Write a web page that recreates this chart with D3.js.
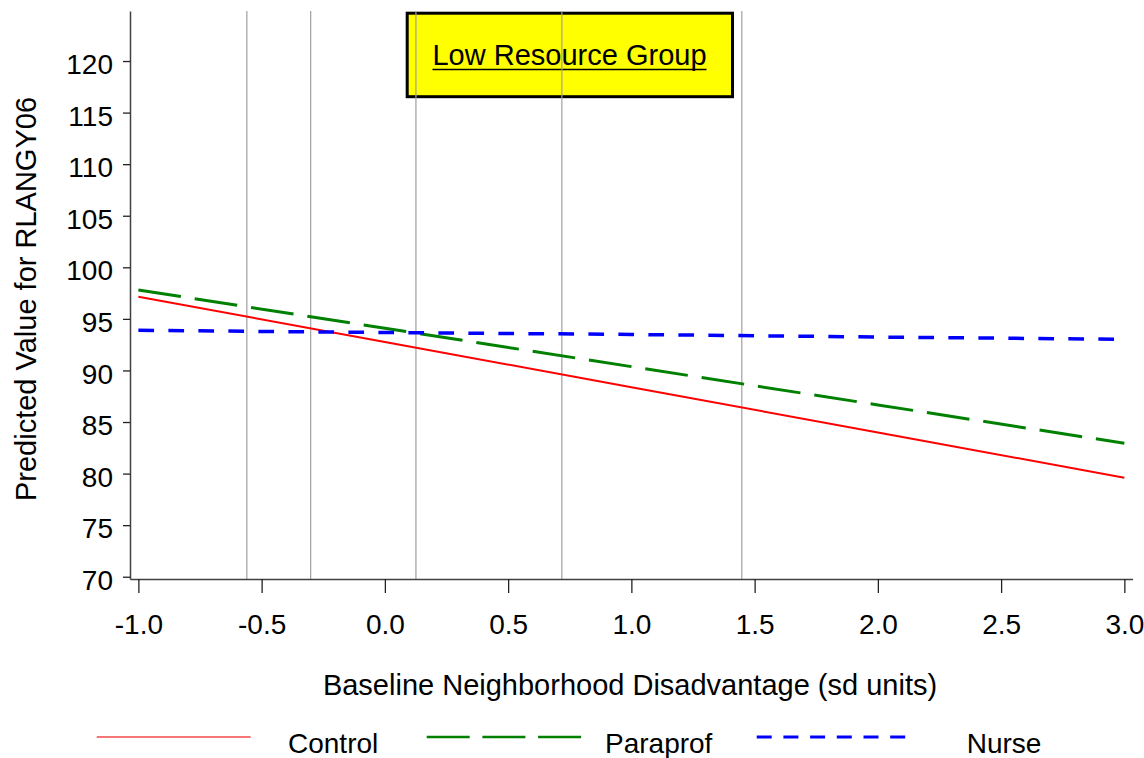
<!DOCTYPE html>
<html>
<head>
<meta charset="utf-8">
<script src="https://cdn.jsdelivr.net/npm/d3@7"></script>
<style>
  html, body { margin: 0; padding: 0; background: #fff; }
  svg { display: block; font-family: "Liberation Sans", Arial, Helvetica, sans-serif; }
</style>
</head>
<body>
<svg id="chart" width="1144" height="758"></svg>
<script>
// ---- data ----
const xPoints = [-1, 0, 1, 2, 3];
const controlValues = [97.15, 92.76, 88.37, 83.99, 79.60];
const paraprofValues = [97.80, 94.09, 90.37, 86.66, 82.94];
const nurseValues = [93.89, 93.68, 93.49, 93.24, 93.02];
const seriesNames = ["Control", "Paraprof", "Nurse"];
const refLines = [-0.560, -0.301, 0.126, 0.718, 1.448];
const xTicks = [-1.0, -0.5, 0.0, 0.5, 1.0, 1.5, 2.0, 2.5, 3.0];
const yTicks = [70, 75, 80, 85, 90, 95, 100, 105, 110, 115, 120];
const titleText = "Low Resource Group";
const xTitle = "Baseline Neighborhood Disadvantage (sd units)";
const yTitle = "Predicted Value for RLANGY06";

// ---- layout ----
const svg = d3.select("#chart");
const x = d3.scaleLinear().domain([-1.034, 3.033]).range([130, 1132.5]);
const y = d3.scaleLinear().domain([69.78, 124.85]).range([579, 11]);

const series = [
  { name: seriesNames[0], values: controlValues, color: "#ff0000", width: 2, dash: null, lDash: null, lWidth: 1.3, lColor: "#f04848" },
  { name: seriesNames[1], values: paraprofValues, color: "#008000", width: 3, dash: "43,14", lDash: "43,12.7", lWidth: 2.5, lColor: "#008000" },
  { name: seriesNames[2], values: nurseValues, color: "#0000ff", width: 3.5, dash: "15.7,14.3", lDash: "15,11.7", lWidth: 3, lColor: "#0000ff" }
];

// title box
const box = svg.append("g");
box.append("rect")
  .attr("x", 407.2).attr("y", 13.2).attr("width", 325.3).attr("height", 83.5)
  .attr("fill", "#ffff00").attr("stroke", "#000").attr("stroke-width", 3);
const tt = box.append("text")
  .attr("x", 569.5).attr("y", 65).attr("text-anchor", "middle")
  .attr("font-size", 29).attr("fill", "#000").text(titleText);

// reference vertical lines
svg.append("g").selectAll("line").data(refLines).join("line")
  .attr("x1", d => x(d)).attr("x2", d => x(d))
  .attr("y1", 11).attr("y2", 579)
  .attr("stroke", "#a0a0a0").attr("stroke-width", 1.2);

// underline for title
{
  const bb = tt.node().getBBox();
  box.append("line").attr("x1", bb.x).attr("x2", bb.x + bb.width)
    .attr("y1", 69.5).attr("y2", 69.5).attr("stroke", "#000").attr("stroke-width", 1.5);
}

// axes
const yAxis = d3.axisLeft(y).tickValues(yTicks).tickSize(7).tickSizeOuter(0).tickPadding(10);
const gy = svg.append("g").attr("transform", "translate(130,0)").call(yAxis);
gy.selectAll("text").attr("font-size", 28).attr("font-family", "Liberation Sans, Arial, sans-serif").attr("dy", "0.45em").attr("fill", "#000");

const xAxis = d3.axisBottom(x).tickValues(xTicks).tickSize(14).tickSizeOuter(0).tickFormat(d => d.toFixed(1));
const gx = svg.append("g").attr("transform", "translate(0,579)").call(xAxis);
gx.selectAll("text").attr("font-size", 28).attr("font-family", "Liberation Sans, Arial, sans-serif").attr("y", 55).attr("dy", "0").attr("fill", "#000");

[gx, gy].forEach(g => {
  g.select(".domain").attr("stroke", "#404040").attr("stroke-width", 1.5);
  g.selectAll(".tick line").attr("stroke", "#222").attr("stroke-width", 1.3);
});

// lines
const lineGen = d3.line().x((d, i) => x(xPoints[i])).y(d => y(d));
series.forEach(s => {
  svg.append("path").datum(s.values)
    .attr("d", lineGen)
    .attr("fill", "none")
    .attr("stroke", s.color)
    .attr("stroke-width", s.width)
    .attr("stroke-dasharray", s.dash);
});

// axis titles
svg.append("text").attr("x", 630).attr("y", 695).attr("text-anchor", "middle")
  .attr("font-size", 29).attr("fill", "#000").text(xTitle);
svg.append("text").attr("transform", "translate(36,299) rotate(-90)").attr("text-anchor", "middle")
  .attr("font-size", 29).attr("fill", "#000").text(yTitle);

// legend
const legendPos = [
  { x1: 96.7, x2: 250.7, tx: 288 },
  { x1: 426.7, x2: 581.7, tx: 605 },
  { x1: 756.7, x2: 905.7, tx: 966.7 }
];
series.forEach((s, i) => {
  const p = legendPos[i];
  svg.append("line").attr("x1", p.x1).attr("x2", p.x2).attr("y1", 737).attr("y2", 737)
    .attr("stroke", s.lColor).attr("stroke-width", s.lWidth).attr("stroke-dasharray", s.lDash);
  svg.append("text").attr("x", p.tx).attr("y", 752.5).attr("font-size", 28).attr("fill", "#000").text(s.name);
});
</script>
</body>
</html>
